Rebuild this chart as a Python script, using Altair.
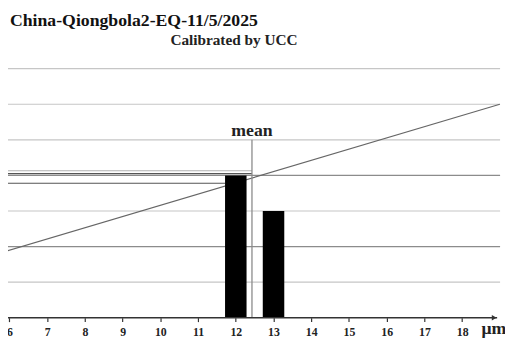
import altair as alt
import pandas as pd

# ---- data ----
title_text = "China-Qiongbola2-EQ-11/5/2025"
subtitle_text = "Calibrated by UCC"
unit_text = "μm"
sizes = [12, 13]            # grain size (μm)
counts = [4, 3]             # count per size
x_ticks = [6, 7, 8, 9, 10, 11, 12, 13, 14, 15, 16, 17, 18]
grid_levels = [1, 2, 3, 4, 5, 6, 7]
mean_value = sum(s * c for s, c in zip(sizes, counts)) / sum(counts)
mean_top = 5
trend_x = [5.75, 19.0]
trend_y = [1.82, 6.0]
guide_kind = ["upper", "middle", "lower"]
guide_level = [4.13, 4.05, 3.78]
guide_start = [5.75, 5.75, 5.75]
guide_end = [mean_value, mean_value, 11.715]

SERIF = "Liberation Serif"
HALF = 0.285

xs = alt.Scale(domain=[5.961, 19.006], nice=False, zero=False)
ys = alt.Scale(domain=[0, 7], nice=False, zero=True)
x_axis = alt.Axis(values=x_ticks, grid=False, domain=False, title=None,
                  tickSize=4, tickColor="#333", tickWidth=1.2,
                  labelFont=SERIF, labelFontWeight="bold",
                  labelFontSize=12, labelColor="#222",
                  labelBaseline="alphabetic", labelPadding=14,
                  format="d")

bars_df = pd.DataFrame({"size": sizes, "count": counts})
bars_df["lo"] = bars_df["size"] - HALF
bars_df["hi"] = bars_df["size"] + HALF
grid_df = pd.DataFrame({"level": grid_levels})
trend_df = pd.DataFrame({"x": trend_x, "y": trend_y})
guide_df = pd.DataFrame({"kind": guide_kind, "level": guide_level,
                         "start": guide_start, "end": guide_end})
mean_df = pd.DataFrame({"m": [mean_value], "bottom": [0], "top": [mean_top],
                        "label": ["mean"]})
one = pd.DataFrame({"a": [0]})

grid = alt.Chart(grid_df).mark_rule(strokeWidth=1.2).encode(
    y=alt.Y("level:Q", scale=ys, axis=None),
    x=alt.value(0), x2=alt.value(500),
    color=alt.condition("datum.level == 2 || datum.level == 4",
                        alt.value("#8c8c8c"), alt.value("#c6c6c6")),
)

guides = alt.Chart(guide_df).mark_rule(strokeWidth=1.1).encode(
    x=alt.X("start:Q", scale=xs, axis=x_axis),
    x2="end:Q",
    y=alt.Y("level:Q", scale=ys, axis=None),
    color=alt.Color("kind:N", legend=None,
                    scale=alt.Scale(domain=guide_kind,
                                    range=["#b0b0b0", "#555555", "#555555"])),
)

bars = alt.Chart(bars_df).mark_bar(color="black").encode(
    x=alt.X("lo:Q", scale=xs, axis=x_axis),
    x2="hi:Q",
    y=alt.Y("count:Q", scale=ys, axis=None),
    y2=alt.datum(0),
)

trend = alt.Chart(trend_df).mark_line(color="#666", strokeWidth=1.2).encode(
    x=alt.X("x:Q", scale=xs, axis=x_axis),
    y=alt.Y("y:Q", scale=ys, axis=None),
)

mean_rule = alt.Chart(mean_df).mark_rule(color="#8a8a8a", strokeWidth=1.3).encode(
    x=alt.X("m:Q", scale=xs, axis=x_axis),
    y=alt.Y("bottom:Q", scale=ys, axis=None),
    y2="top:Q",
)

mean_label = alt.Chart(mean_df).mark_text(
    font=SERIF, fontWeight="bold", fontSize=18, color="#222",
    align="center", baseline="alphabetic").encode(
    x=alt.X("m:Q", scale=xs, axis=x_axis),
    y=alt.value(68),
    text="label:N",
)

axis_line = alt.Chart(one).mark_rule(color="#333", strokeWidth=1.5).encode(
    x=alt.value(0), x2=alt.value(497), y=alt.value(253),
)
arrow = alt.Chart(one).mark_point(shape="triangle-right", filled=True,
                                  size=30, color="#333", opacity=1).encode(
    x=alt.value(494), y=alt.value(253),
)

title = alt.Chart(pd.DataFrame({"t": [title_text]})).mark_text(
    font=SERIF, fontWeight="bold", fontSize=18, color="#111",
    align="left", baseline="alphabetic").encode(
    x=alt.value(2), y=alt.value(-43), text="t:N")

subtitle = alt.Chart(pd.DataFrame({"t": [subtitle_text]})).mark_text(
    font=SERIF, fontWeight="bold", fontSize=15.5, color="#222",
    align="left", baseline="alphabetic").encode(
    x=alt.value(165), y=alt.value(-24.5), text="t:N")

unit = alt.Chart(pd.DataFrame({"t": [unit_text]})).mark_text(
    font=SERIF, fontWeight="bold", fontSize=18, color="#222",
    align="left", baseline="alphabetic").encode(
    x=alt.value(481), y=alt.value(270), text="t:N")

chart = alt.layer(
    grid, guides, trend, bars, mean_rule, mean_label,
    axis_line, arrow, title, subtitle, unit,
).properties(
    width=500, height=253,
    autosize=alt.AutoSizeParams(type="none"),
    padding={"left": 0, "top": 59, "right": 5, "bottom": 20},
).configure_view(stroke=None)

chart.save("out.html", embed_options={"renderer": "svg", "actions": False})
